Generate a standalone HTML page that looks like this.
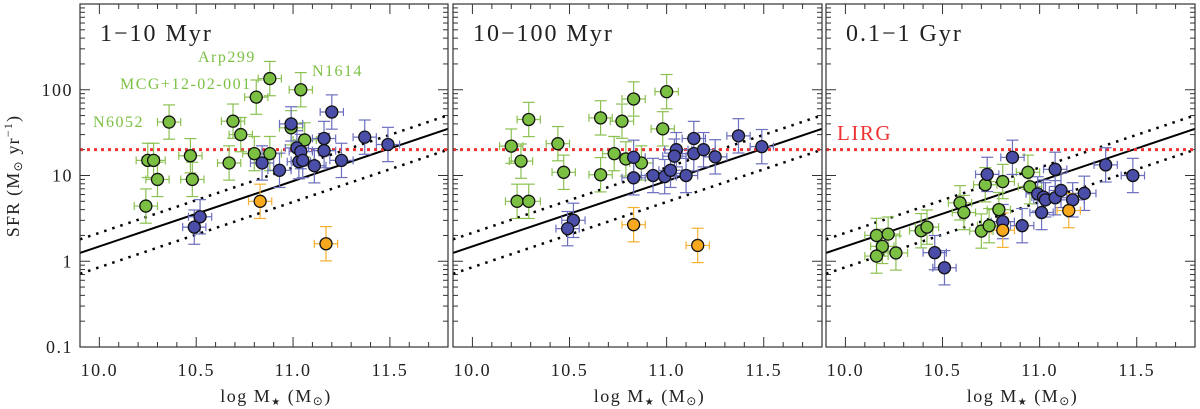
<!DOCTYPE html>
<html><head><meta charset="utf-8"><style>
html,body{margin:0;padding:0;background:#fff}
svg{display:block}
text{font-family:"Liberation Serif",serif;fill:#222}
</style></head><body>
<svg id="chart" width="1200" height="409" viewBox="0 0 1200 409" xmlns="http://www.w3.org/2000/svg"></svg>
<script>
// ---- data ----
const panelTitles = ["1\u221210 Myr", "10\u2212100 Myr", "0.1\u22121 Gyr"];
const xTickLabels = ["10.0", "10.5", "11.0", "11.5"];
const xTickValues = [10.0, 10.5, 11.0, 11.5];
const yTickLabels = ["0.1", "1", "10", "100"];
const yTickValues = [0.1, 1, 10, 100];
const lirgLevel = 20;
const relLine = [[9.9, 1.25], [11.8, 35]];
const relScatterUp = 1.44;
const relScatterDown = 1.75;

const p1GreenX = [10.24,10.25,10.28,10.30,10.36,10.47,10.48,10.67,10.69,10.73,10.80,10.81,10.88,10.88,10.99,11.04,11.06];
const p1GreenY = [4.4,15,15,9,42,17,9,14,43,30,18,82,18,135,36,100,26];
const p1BlueX = [10.49,10.52,10.84,10.93,10.99,11.02,11.03,11.04,11.05,11.11,11.16,11.16,11.20,11.25,11.37,11.49];
const p1BlueY = [2.5,3.3,14,11.5,40,21,14.5,19,15,13,27,19.5,55,15,28,23];
const p1OrangeX = [10.83,11.17];
const p1OrangeY = [5,1.6];

const p2GreenX = [10.29,10.20,10.25,10.44,10.47,10.23,10.29,10.66,10.66,10.77,10.83,10.73,10.79,10.87,10.98,11.00];
const p2GreenY = [45,22,14.7,23.5,10.9,5,5,47,10.2,43,78,18,15.6,14,35,95];
const p2BlueX = [10.83,10.83,10.93,10.99,11.02,11.05,11.04,11.14,11.14,11.19,11.25,11.10,11.37,11.49,10.52,10.49];
const p2BlueY = [16.3,9.4,10,9.7,11.5,20,16.8,27,18,20,16.5,10,29,21.7,3.0,2.4];
const p2OrangeX = [10.83,11.16];
const p2OrangeY = [2.67,1.53];

const p3GreenX = [10.16,10.22,10.19,10.16,10.26,10.39,10.42,10.59,10.61,10.70,10.74,10.72,10.79,10.81,10.94,10.95];
const p3GreenY = [2.0,2.07,1.49,1.15,1.25,2.27,2.5,4.8,3.7,2.25,2.6,7.8,4.0,8.5,10.9,7.4];
const p3BlueX = [10.73,10.86,10.81,10.91,10.46,10.51,10.99,11.02,11.03,11.01,11.08,11.08,11.11,11.17,11.23,11.34,11.48];
const p3BlueY = [10.3,16.3,2.9,2.6,1.26,0.84,6.1,5.6,5.2,3.7,11.8,5.5,6.7,5.2,6.2,13.3,10];
const p3OrangeX = [10.81,11.15];
const p3OrangeY = [2.3,3.9];

const xErrDex = 0.06;
const yErrDex = 0.2;

// ---- layout ----
const panels = [{l:80,r:448},{l:453,r:822},{l:826,r:1195}];
const TOP = 4, BOT = 347;
const XMIN = 9.9, XMAX = 11.8, YMINL = -1, YMAXL = 3;
const NS = "http://www.w3.org/2000/svg";
const svg = document.getElementById('chart');
function mk(tag, attrs, parent){const e=document.createElementNS(NS,tag);for(const k in attrs)e.setAttribute(k,attrs[k]);(parent||svg).appendChild(e);return e;}

const series = [
  [[p1GreenX,p1GreenY,'#7cc043','#8cc152'],[p1BlueX,p1BlueY,'#4b4ea8','#6b6fbd'],[p1OrangeX,p1OrangeY,'#f8a81c','#f5b030']],
  [[p2GreenX,p2GreenY,'#7cc043','#8cc152'],[p2BlueX,p2BlueY,'#4b4ea8','#6b6fbd'],[p2OrangeX,p2OrangeY,'#f8a81c','#f5b030']],
  [[p3GreenX,p3GreenY,'#7cc043','#8cc152'],[p3BlueX,p3BlueY,'#4b4ea8','#6b6fbd'],[p3OrangeX,p3OrangeY,'#f8a81c','#f5b030']]
];
const seriesNames = ['green','blue','orange'];

panels.forEach((p,pi)=>{
  const sx = v => p.l + (v-XMIN)/(XMAX-XMIN)*(p.r-p.l);
  const sy = v => BOT - (Math.log10(v)-YMINL)/(YMAXL-YMINL)*(BOT-TOP);
  const g = mk('g',{});
  
  
  const clipId='clip'+pi;
  const cp=mk('clipPath',{id:clipId},g); mk('rect',{x:p.l,y:TOP,width:p.r-p.l,height:BOT-TOP},cp);

  for(let d=YMINL; d<YMAXL; d++){
    for(let m=1;m<10;m++){
      const v=m*Math.pow(10,d); const y=sy(v); const len=m===1?10:5;
      mk('line',{x1:p.l,x2:p.l+len,y1:y,y2:y,stroke:'#333','stroke-width':1},g);
      mk('line',{x1:p.r,x2:p.r-len,y1:y,y2:y,stroke:'#333','stroke-width':1},g);
    }
  }
  for(let i=99;i<=118;i++){
    const v=i/10; const x=sx(v); const len=(i%5===0)?10:5;
    mk('line',{x1:x,x2:x,y1:BOT,y2:BOT-len,stroke:'#333','stroke-width':1},g);
    mk('line',{x1:x,x2:x,y1:TOP,y2:TOP+len,stroke:'#333','stroke-width':1},g);
  }
  xTickValues.forEach((v,i)=>{
    const t=mk('text',{x:sx(v),y:376,'font-size':18,'letter-spacing':1.5,'text-anchor':'middle'},g);
    
    
    t.textContent=xTickLabels[i];
  });
  if(pi===0){
    yTickValues.forEach((v,i)=>{
      const t=mk('text',{x:73,y:sy(v)+6,'font-size':18,'letter-spacing':1.5,'text-anchor':'end'},g);
      
      
      t.textContent=yTickLabels[i];
    });
  }
  const xt=mk('text',{x:(p.l+p.r)/2+12,y:402,'font-size':18,'letter-spacing':1.5,'text-anchor':'middle'},g);
  
  
  xt.innerHTML='log M<tspan font-size="10" dy="3">\u2605</tspan><tspan dy="-3"> (M<tspan font-size="12" dy="3">\u2299</tspan><tspan dy="-3">)</tspan></tspan>';

  const clipped=mk('g',{'clip-path':'url(#'+clipId+')'},g);
  const [a,b]=relLine;
  const line=mk('line',{x1:sx(a[0]),y1:sy(a[1]),x2:sx(b[0]),y2:sy(b[1]),stroke:'#000','stroke-width':2},clipped);
  
  
  [relScatterUp,1/relScatterDown].forEach(f=>{
    const l=mk('line',{x1:sx(a[0]),y1:sy(a[1]*f),x2:sx(b[0]),y2:sy(b[1]*f),stroke:'#000','stroke-width':2.5,'stroke-dasharray':'2.5 6'},clipped);
    
    
  });
  const lr=mk('line',{x1:p.l,x2:p.r,y1:sy(lirgLevel),y2:sy(lirgLevel),stroke:'#ee3333','stroke-width':3,'stroke-dasharray':'3 4'},clipped);
  
  

  series[pi].forEach((s,si)=>{
    const [xs,ys,fill,ec]=s;
    xs.forEach((xv,k)=>{
      const yv=ys[k]; const cx=sx(xv), cy=sy(yv);
      const eg=mk('g',{stroke:ec,'stroke-width':1.2},clipped);
      
      
      const x0=sx(xv-xErrDex), x1=sx(xv+xErrDex);
      const y0=sy(yv*Math.pow(10,yErrDex)), y1=sy(yv/Math.pow(10,yErrDex));
      mk('line',{x1:x0,x2:x1,y1:cy,y2:cy},eg);
      mk('line',{x1:x0,x2:x0,y1:cy-4,y2:cy+4},eg);
      mk('line',{x1:x1,x2:x1,y1:cy-4,y2:cy+4},eg);
      mk('line',{x1:cx,x2:cx,y1:y0,y2:y1},eg);
      mk('line',{x1:cx-6,x2:cx+6,y1:y0,y2:y0},eg);
      mk('line',{x1:cx-6,x2:cx+6,y1:y1,y2:y1},eg);
    });
  });
  series[pi].forEach((s,si)=>{
    const [xs,ys,fill]=s;
    xs.forEach((xv,k)=>{
      const c=mk('circle',{cx:sx(xv),cy:sy(ys[k]),r:6,fill:fill,stroke:'#111','stroke-width':1.3},clipped);
      
      
    });
  });

  const fr=mk('rect',{x:p.l,y:TOP,width:p.r-p.l,height:BOT-TOP,fill:'none',stroke:'#333','stroke-width':1.2},g);
  
  

  const tt=mk('text',{x:p.l+20,y:41,'font-size':24,'letter-spacing':2},g);
  
  
  tt.textContent=panelTitles[pi];
});

const yt=mk('text',{x:0,y:0,'font-size':18,'letter-spacing':1.2,'text-anchor':'middle',transform:'translate(19,176) rotate(-90)'});


yt.innerHTML='SFR (M<tspan font-size="12" dy="3">\u2299</tspan><tspan dy="-3"> yr</tspan><tspan font-size="12" dy="-7">\u22121</tspan><tspan dy="7">)</tspan>';

const notes=[["N6052",93,127],["MCG+12-02-001",120,89],["Arp299",198,62],["N1614",312,76]];
notes.forEach(n=>{
  const t=mk('text',{x:n[1],y:n[2],'font-size':16,'letter-spacing':1.5});
  
  
  t.style.fill='#7cc043';
  t.textContent=n[0];
});
const lt=mk('text',{x:837,y:140,'font-size':21,'letter-spacing':1.5});


lt.style.fill='#ee3333';
lt.textContent='LIRG';
</script>
</body></html>
